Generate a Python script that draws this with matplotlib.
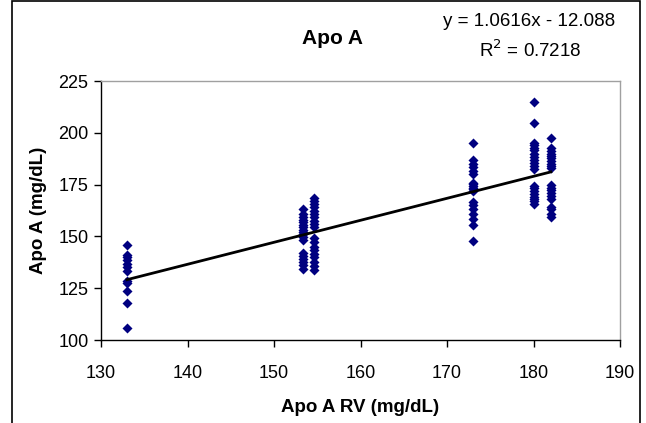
import matplotlib
matplotlib.use("Agg")
import matplotlib.pyplot as plt
from matplotlib.patches import Rectangle

plt.rcParams['font.family'] = ['Liberation Sans', 'DejaVu Sans']

x_133 = [133] * 12
y_133 = [146, 141, 140, 138.5, 136.5, 135, 133.5, 128.5, 127.5, 123.5, 118, 106]

x_1533 = [153.4] * 18
y_1533 = [163, 161, 159.5, 158, 157, 155.5, 154.5, 153, 152, 151, 149.5, 148.5,
          142, 140.5, 139, 137.5, 136, 134.5]

x_1545 = [154.6] * 19
y_1545 = [168.5, 167, 165.5, 164, 162.5, 161, 159.5, 157.5, 156, 154.5,
          149, 147.5, 145, 143.5, 141.5, 140, 137.5, 135.5, 134]

x_173 = [173] * 19
y_173 = [195, 187, 185, 183.5, 181.5, 180, 176, 175.5, 174.5, 173.5, 173, 172,
         166.5, 165, 163, 161, 158.5, 155.5, 148]

x_180 = [180] * 20
y_180 = [215, 204.5, 195, 194, 192.5, 191.5, 190, 188.5, 187, 185.5, 184, 182.5,
         174.5, 173.5, 172, 170.5, 169, 168, 167, 165.5]

x_182 = [182] * 20
y_182 = [197.5, 192.5, 191, 190, 189, 188, 186.5, 185, 184, 183,
         175, 173.5, 172.5, 171, 169.5, 168, 164, 163, 161, 159.5]

xs = x_133 + x_1533 + x_1545 + x_173 + x_180 + x_182
ys = y_133 + y_1533 + y_1545 + y_173 + y_180 + y_182

slope = 1.0616
intercept = -12.088
r2 = 0.7218

x_ticks = [130, 140, 150, 160, 170, 180, 190]
y_ticks = [100, 125, 150, 175, 200, 225]

fig = plt.figure(figsize=(6.46, 4.23), dpi=100)
ax = fig.add_axes([101/646, 1 - 340/423, (620 - 101)/646, (340 - 81)/423])

# outer chart border
fig.patches.append(Rectangle((12/646, -0.01), (640 - 12)/646, 1.0 - 1/423 + 0.01,
                             transform=fig.transFigure, fill=False,
                             edgecolor='black', linewidth=1.2))

ax.scatter(xs, ys, marker='D', s=26, color='#000080', zorder=3, linewidths=0)

xmin, xmax = min(xs), max(xs)
ax.plot([xmin, xmax], [slope * xmin + intercept, slope * xmax + intercept],
        color='black', linewidth=2, zorder=4)

ax.set_xlim(130, 190)
ax.set_ylim(100, 225)
ax.set_xticks(x_ticks)
ax.set_yticks(y_ticks)
ax.tick_params(axis='both', direction='out', length=5, width=1, labelsize=13,
               color='black')
ax.tick_params(axis='x', pad=13)
ax.tick_params(axis='y', pad=4)

for s in ['top', 'right']:
    ax.spines[s].set_color('#a0a0a0')
    ax.spines[s].set_linewidth(1)
for s in ['left', 'bottom']:
    ax.spines[s].set_color('black')
    ax.spines[s].set_linewidth(1)

ax.set_xlabel('Apo A RV (mg/dL)', fontsize=13.5, fontweight='bold', labelpad=12)
ax.set_ylabel('Apo A (mg/dL)', fontsize=13.5, fontweight='bold', labelpad=8)

fig.text(333/646, 1 - 38/423, 'Apo A', ha='center', va='center',
         fontsize=15, fontweight='bold')
fig.text(529/646, 1 - 22/423, f'y = {slope}x - {abs(intercept)}', ha='center',
         va='center', fontsize=13.5)
fig.text(530/646, 1 - 50/423, f'R$^2$ = {r2}', ha='center', va='center',
         fontsize=13.5)

fig.savefig('out.png', dpi=100)
